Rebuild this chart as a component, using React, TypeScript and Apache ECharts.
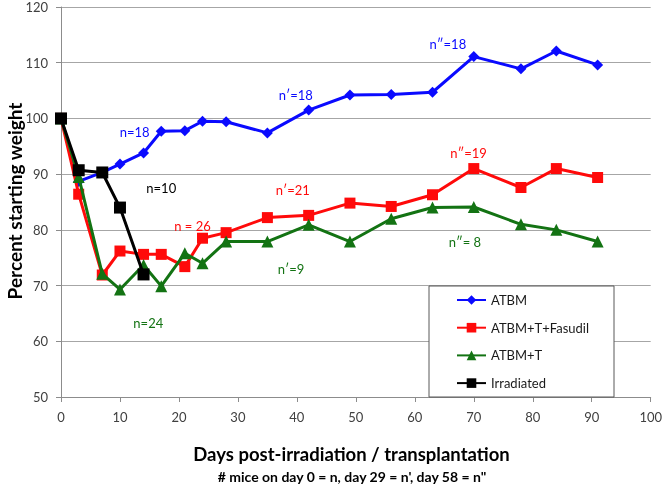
import React, { useEffect, useRef } from "react";
import * as echarts from "echarts";

const days = [0, 3, 7, 10, 14, 17, 21, 24, 28, 35, 42, 49, 56, 63, 70, 78, 84, 91];
const atbm = [100, 88.7, 90.3, 91.8, 93.8, 97.7, 97.8, 99.5, 99.4, 97.4, 101.5, 104.2, 104.3, 104.7, 111.1, 108.9, 112.1, 109.6];
const atbmTFasudil = [100, 86.4, 71.9, 76.2, 75.6, 75.6, 73.4, 78.5, 79.5, 82.2, 82.6, 84.8, 84.2, 86.3, 91.0, 87.6, 91.0, 89.4];
const atbmT = [100, 89.5, 72.1, 69.3, 73.7, 69.9, 75.8, 74.0, 77.9, 77.9, 80.9, 77.9, 82.0, 84.0, 84.1, 81.0, 80.0, 77.9];
const irradiatedDays = [0, 3, 7, 10, 14];
const irradiated = [100, 90.7, 90.3, 84.0, 72.0];

const seriesNames = ["ATBM", "ATBM+T+Fasudil", "ATBM+T", "Irradiated"];

const noteText = ["n=18", "n′=18", "n″=18", "n=10", "n = 26", "n′=21", "n″=19", "n=24", "n′=9", "n″= 8"];
const noteDay = [12.5, 39.8, 65.6, 17.0, 22.3, 39.3, 69.1, 14.8, 39.0, 68.5];
const noteValue = [97.6, 104.2, 113.4, 87.5, 80.7, 87.1, 93.8, 63.3, 73.0, 77.8];
const noteSeries = [0, 0, 0, 3, 1, 1, 1, 2, 2, 2];

const xTitle = "Days post-irradiation / transplantation";
const xSubtitle = "# mice on day 0 = n, day 29 = n', day 58 = n\"";
const yTitle = "Percent starting weight";

const colors = ["#0a0aff", "#ff0a0a", "#137313", "#000000"];
const symbols = ["diamond", "rect", "triangle", "rect"];
const symbolSizes = [11, 11, 12, 12];
const FONT = "Lato, 'Open Sans', sans-serif";

export default function App() {
  const ref = useRef<HTMLDivElement>(null);
  useEffect(() => {
    const chart = echarts.init(ref.current!, null, { renderer: "svg" });
    const dataSets = [
      days.map((d, i) => [d, atbm[i]]),
      days.map((d, i) => [d, atbmTFasudil[i]]),
      days.map((d, i) => [d, atbmT[i]]),
      irradiatedDays.map((d, i) => [d, irradiated[i]]),
    ];
    const option: any = {
      animation: false,
      textStyle: { fontFamily: FONT },
      grid: { left: 61, right: 11, top: 7, bottom: 90, containLabel: false },
      xAxis: {
        type: "value",
        min: 0,
        max: 100,
        interval: 10,
        axisLine: { show: true, lineStyle: { color: "#8c8c8c", width: 1 } },
        axisTick: { show: true, length: 5, lineStyle: { color: "#8c8c8c" } },
        splitLine: { show: false },
        axisLabel: { color: "#404040", fontSize: 13, margin: 13, fontFamily: FONT },
      },
      yAxis: {
        type: "value",
        min: 50,
        max: 120,
        interval: 10,
        axisLine: { show: true, lineStyle: { color: "#8c8c8c", width: 1 } },
        axisTick: { show: true, length: 5, lineStyle: { color: "#8c8c8c" } },
        splitLine: { show: true, lineStyle: { color: "#a6a6a6", width: 1 } },
        axisLabel: { color: "#404040", fontSize: 13, margin: 13, fontFamily: FONT },
      },
      legend: {
        orient: "vertical",
        left: 456,
        top: 292,
        padding: 0,
        itemWidth: 29,
        itemHeight: 12,
        itemGap: 11.7,
        textStyle: { fontSize: 13, color: "#1a1a1a", lineHeight: 16, fontFamily: FONT },
        data: seriesNames,
        z: 5,
      },
      series: seriesNames.map((name, i) => ({
        name,
        type: "line",
        data: dataSets[i],
        color: colors[i],
        symbol: symbols[i],
        symbolSize: symbolSizes[i],
        lineStyle: { width: 3, color: colors[i] },
        itemStyle: { color: colors[i] },
        z: 2 + i,
      })),
    };
    chart.setOption(option);

    const notes = noteText.map((t, i) => {
      const p = chart.convertToPixel({ gridIndex: 0 }, [noteDay[i], noteValue[i]]) as number[];
      return {
        type: "text",
        x: p[0],
        y: p[1],
        z: 6,
        style: {
          text: t,
          fill: colors[noteSeries[i]],
          font: `13px ${FONT}`,
          align: "center",
          verticalAlign: "middle",
        },
      };
    });

    chart.setOption({
      graphic: [
        {
          type: "rect",
          z: 3,
          shape: { x: 429, y: 286, width: 185, height: 111 },
          style: { fill: "#ffffff", stroke: "#595959", lineWidth: 1 },
        },
        {
          type: "text",
          x: 351.5,
          y: 454,
          z: 6,
          style: { text: xTitle, fill: "#000", font: `bold 18.5px ${FONT}`, align: "center", verticalAlign: "middle" },
        },
        {
          type: "text",
          x: 352,
          y: 476,
          z: 6,
          style: { text: xSubtitle, fill: "#000", font: `bold 14px ${FONT}`, align: "center", verticalAlign: "middle" },
        },
        {
          type: "text",
          x: 14,
          y: 201,
          rotation: Math.PI / 2,
          z: 6,
          style: { text: yTitle, fill: "#000", font: `bold 19px ${FONT}`, align: "center", verticalAlign: "middle" },
        },
        ...notes,
      ],
    });
    return () => chart.dispose();
  }, []);
  return <div ref={ref} style={{ position: "fixed", left: 0, top: 0, width: 665, height: 487 }} />;
}
